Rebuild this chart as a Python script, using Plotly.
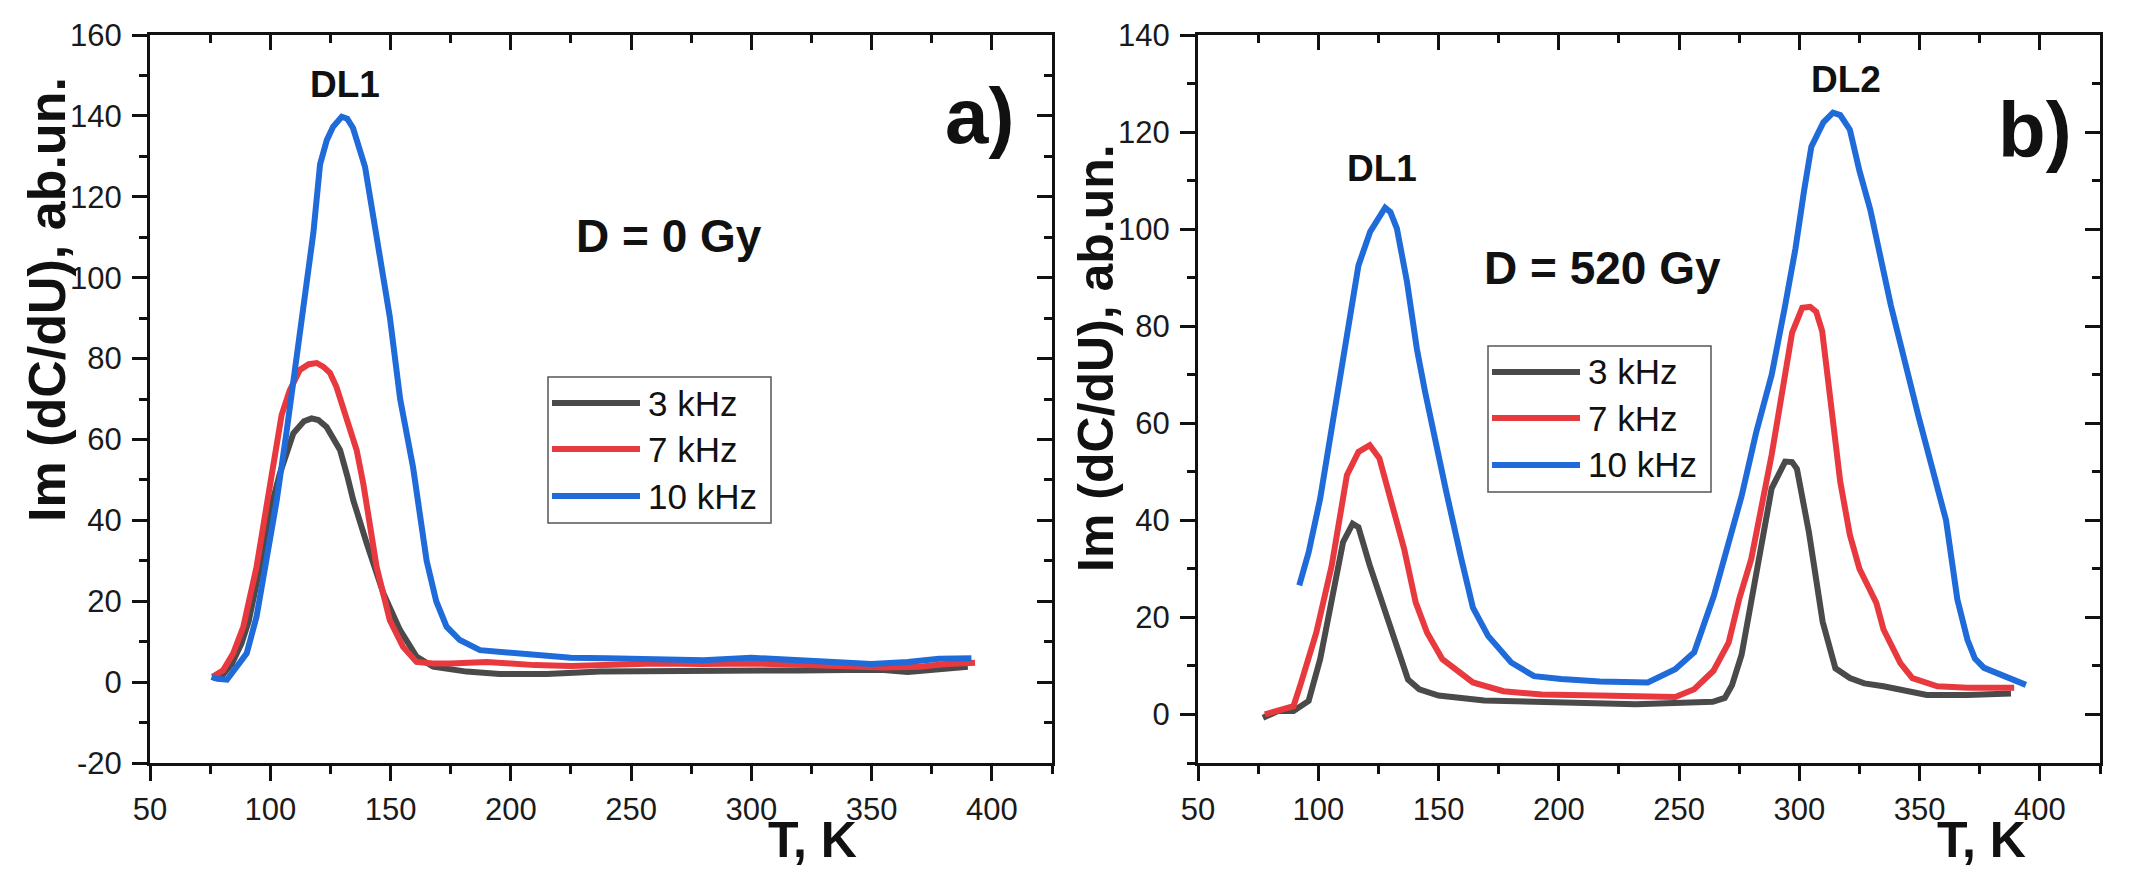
import plotly.graph_objects as go

W, H = 2142, 871
FONT = "Liberation Sans, Arial, sans-serif"

NAMES = ["3 kHz", "7 kHz", "10 kHz"]
COLORS = ["#4a4a4a", "#e8393e", "#1f6bd9"]

# ---- panel a) D = 0 Gy ----
T_a_3 = [76, 80, 84, 88, 91, 94.3, 97, 100, 104, 109.6, 114, 117.2, 120, 123.4, 126, 129, 132, 134.5,
         140.1, 147, 153.9, 160.8, 167.7, 175, 181.6, 195.5, 215, 237, 260, 280, 300, 320, 340, 355,
         365, 375, 390]
Y_a_3 = [1.0, 1.6, 4.5, 9.5, 15, 23.6, 32, 42.5, 51.6, 61.5, 64.5, 65.2, 64.8, 63.1, 60.5, 57.4, 51, 45,
         34.3, 22, 12.9, 6.3, 3.8, 3.0, 2.6, 2.0, 2.0, 2.6, 2.6, 2.7, 2.8, 2.9, 3.0, 3.0,
         2.5, 3.0, 3.8]

T_a_7 = [76, 80.4, 84.6, 88.8, 94.3, 100, 104.7, 108, 112.3, 116, 119.3, 122, 124.8, 127.5, 130.3, 133,
         135.9, 138.7, 144.2, 149.7, 155.2, 160.8, 167.7, 175, 182, 190, 200, 210, 225, 240, 260, 280,
         300, 320, 340, 355, 370, 380, 393]
Y_a_7 = [1.3, 2.9, 7.1, 13.7, 28.5, 49, 66, 72, 77.2, 78.6, 78.9, 78, 76.5, 73, 68.1, 62.5,
         57.4, 49, 28.5, 15.3, 8.7, 5.0, 4.6, 4.6, 4.8, 5.0, 4.6, 4.2, 4.0, 4.3, 4.6, 4.5,
         4.6, 4.3, 4.0, 3.6, 3.8, 4.4, 4.8]

T_a_10 = [75.6, 78, 82, 86, 90.2, 94.3, 98.5, 102.7, 106.8, 112.3, 117.9, 120.7, 123.5, 126.1, 129.7,
          132, 134.4, 139.4, 144.2, 149.7, 154, 159.4, 165, 169, 173.3, 178.8, 187.2, 195.5, 210, 225,
          240, 260, 280, 300, 320, 335, 350, 365, 378, 391.5]
Y_a_10 = [1.3, 0.8, 0.6, 3.8, 7.1, 16.2, 30, 45, 62, 86, 111, 128, 134, 137.3, 139.8,
          139.3, 137, 127.4, 111, 90.3, 70, 53, 30, 20, 13.7, 10.4, 7.9, 7.5, 6.8, 6.0,
          5.9, 5.6, 5.4, 6.0, 5.4, 5.0, 4.5, 5.0, 5.8, 5.9]

# ---- panel b) D = 520 Gy ----
T_b_3 = [77, 83.3, 89.7, 96, 100.8, 105.6, 110.3, 114.3, 116.7, 121.4, 127.8, 132.5, 137.3, 142, 150,
         169, 200, 232, 264, 269, 272, 276, 281.4, 288.5, 294.1, 297, 299, 304, 309.7, 315, 321, 327,
         335, 345, 353, 370, 388]
Y_b_3 = [-0.7, 0.7, 0.7, 2.8, 11.4, 23.8, 35.5, 39.3, 38.6, 30.7, 21, 14.1, 7.2, 5.2, 3.9,
         2.9, 2.4, 2.1, 2.6, 3.4, 6.0, 12.3, 27.1, 46.6, 52.1, 52, 50.6, 37.5, 19.1, 9.5, 7.5, 6.4,
         5.8, 4.8, 4.0, 4.0, 4.3]

T_b_7 = [77.8, 83.3, 89.7, 92.9, 99.2, 105.6, 111.9, 116.7, 121.4, 125.4, 131, 135.7, 140.5, 145.2,
         151.6, 157.9, 164.3, 177, 192.9, 216.7, 248.4, 256.3, 264.3, 270.6, 275, 280, 288.5, 297,
         301.2, 304.5, 307, 309.5, 312.5, 317, 321, 325, 329, 332, 335, 342, 347, 357.4, 370, 389.3]
Y_b_7 = [0, 0.7, 1.7, 6.6, 16.9, 30.7, 49.3, 54.1, 55.5, 52.8, 42.4, 34.1, 23.1, 16.9,
         11.4, 9.0, 6.6, 4.8, 4.1, 3.9, 3.6, 5.2, 9.0, 14.8, 23.8, 32, 53.5, 78.7,
         83.8, 84, 83, 79, 67.2, 48, 37, 30, 26, 23, 17.5, 10.6, 7.5, 5.8, 5.5, 5.5]

T_b_10 = [92.1, 96, 100.8, 104.3, 108.9, 113.3, 116.7, 121.6, 125, 127.8, 130, 132.7, 136.9, 141, 144.4,
          149.3, 153.2, 159.5, 164.3, 170.6, 180.2, 189.7, 201, 217, 237, 248.4, 256.3, 264.5, 270.5,
          276, 282, 288.5, 294, 298.4, 302, 305, 310, 314, 317, 321, 325, 329.5, 338, 349.5, 361,
          365.7, 369.9, 373, 376.8, 383.8, 394.2]
Y_b_10 = [26.6, 33.4, 44.5, 54.7, 68, 82.2, 92.5, 99.5, 102.5, 104.4, 103.5, 100.1, 89.1, 75.3, 66.5,
          54.7, 45.9, 32, 22, 16.2, 10.7, 7.9, 7.3, 6.8, 6.6, 9.3, 12.8, 24.5, 35,
          45, 58, 70, 84, 96, 108, 117, 122, 124, 123.5, 120.5, 112, 104, 84.4, 61.5, 40,
          23.7, 15.4, 11.5, 9.6, 8.2, 6.1]

X_TICKS = [50, 100, 150, 200, 250, 300, 350, 400]
Y_TICKS_A = [-20, 0, 20, 40, 60, 80, 100, 120, 140, 160]
Y_TICKS_B = [0, 20, 40, 60, 80, 100, 120, 140]

fig = go.Figure()

panels = [
    ("x", "y", [(T_a_3, Y_a_3), (T_a_7, Y_a_7), (T_a_10, Y_a_10)]),
    ("x2", "y2", [(T_b_3, Y_b_3), (T_b_7, Y_b_7), (T_b_10, Y_b_10)]),
]
for xa, ya, series in panels:
    for (T, Y), name, color in zip(series, NAMES, COLORS):
        fig.add_trace(go.Scatter(x=T, y=Y, mode="lines", name=name, xaxis=xa, yaxis=ya,
                                 line=dict(color=color, width=6), showlegend=False,
                                 hoverinfo="skip"))

# invisible traces to activate the mirrored inside-tick axes
for xa, ya in [("x3", "y"), ("x", "y3"), ("x4", "y2"), ("x2", "y4")]:
    fig.add_trace(go.Scatter(x=[None], y=[None], xaxis=xa, yaxis=ya, showlegend=False,
                             hoverinfo="skip"))

AX = "#111111"
TICKFONT = dict(family=FONT, size=31, color="#1a1a1a")


def labels(vals):
    return [str(v) for v in vals]   # plain hyphen for negatives, as in the reference


def main_axis(domain, rng, tickvals, minor_dtick, minor_tick0, anchor, standoff):
    return dict(domain=domain, range=rng, anchor=anchor, tickmode="array", tickvals=tickvals,
                ticktext=labels(tickvals), automargin=False,
                ticks="outside", ticklen=15, tickwidth=3, tickcolor=AX,
                showline=True, linewidth=3, linecolor=AX, mirror=True,
                showgrid=False, zeroline=False, tickfont=TICKFONT, ticklabelstandoff=standoff,
                minor=dict(tickmode="linear", tick0=minor_tick0, dtick=minor_dtick, ticks="outside",
                           ticklen=8, tickwidth=3, tickcolor=AX, showgrid=False))


def mirror_axis(rng, tickvals, minor_dtick, minor_tick0, overlaying, side, anchor):
    return dict(range=rng, overlaying=overlaying, side=side, anchor=anchor, tickmode="array",
                tickvals=tickvals, ticks="inside", ticklen=15, tickwidth=3, tickcolor=AX,
                automargin=False, showline=False, showgrid=False, zeroline=False,
                showticklabels=False,
                minor=dict(tickmode="linear", tick0=minor_tick0, dtick=minor_dtick, ticks="inside",
                           ticklen=8, tickwidth=3, tickcolor=AX, showgrid=False))


YDOM = [108 / H, 836 / H]
XDOM_A = [150 / W, 1052 / W]
XDOM_B = [1198 / W, 2100 / W]
XR = [50, 425]
YR_A = [-20, 160]
YR_B = [-10, 140]

fig.update_layout(
    width=W, height=H, margin=dict(l=0, r=0, t=0, b=0, autoexpand=False),
    paper_bgcolor="white", plot_bgcolor="white", showlegend=False,
    xaxis=main_axis(XDOM_A, XR, X_TICKS, 25, 50, "y", 2),
    yaxis=main_axis(YDOM, YR_A, Y_TICKS_A, 10, -20, "x", 4),
    xaxis2=main_axis(XDOM_B, XR, X_TICKS, 25, 50, "y2", 2),
    yaxis2=main_axis(YDOM, YR_B, Y_TICKS_B, 10, -10, "x2", 4),
    xaxis3=mirror_axis(XR, X_TICKS, 25, 50, "x", "top", "y"),
    yaxis3=mirror_axis(YR_A, Y_TICKS_A, 10, -20, "y", "right", "x"),
    xaxis4=mirror_axis(XR, X_TICKS, 25, 50, "x2", "top", "y2"),
    yaxis4=mirror_axis(YR_B, Y_TICKS_B, 10, -10, "y2", "right", "x2"),
)


def px(x):
    return x / W


def py(y):
    return 1 - y / H


ann = []


def txt(text, x, y, size, xref="paper", yref="paper", angle=0, xanchor="center", bold=True):
    ann.append(dict(text=f"<b>{text}</b>" if bold else text, x=x, y=y, xref=xref, yref=yref,
                    showarrow=False, textangle=angle, xanchor=xanchor, yanchor="middle",
                    font=dict(family=FONT, size=size, color="#111111")))


# panel labels and peak labels (data coordinates)
txt("DL1", 131, 147.7, 37, "x", "y")
txt("D = 0 Gy", 265.6, 110.4, 46, "x", "y")
txt("a)", 394.7, 140, 78, "x", "y")
txt("DL1", 126.7, 112.5, 37, "x2", "y2")
txt("DL2", 319.5, 130.8, 37, "x2", "y2")
txt("D = 520 Gy", 218.2, 91.9, 46, "x2", "y2")
txt("b)", 398, 120.5, 78, "x2", "y2")

# axis titles
txt("Im (dC/dU), ab.un.", px(47), py(300), 52, angle=-90)
txt("Im (dC/dU), ab.un.", px(1096), py(358), 50, angle=-90)
txt("T, K", px(812), py(840), 50)
txt("T, K", px(1981), py(840), 50)

# hand-drawn legends
shapes = []
LEGENDS = [
    dict(box=(548, 377, 771, 523), x0=552, x1=640, rows=[403, 449, 496], tx=646),
    dict(box=(1488, 346, 1711, 492), x0=1492, x1=1580, rows=[372, 418, 465], tx=1586),
]
for lg in LEGENDS:
    bx0, by0, bx1, by1 = lg["box"]
    shapes.append(dict(type="rect", xref="paper", yref="paper", x0=px(bx0), x1=px(bx1),
                       y0=py(by1), y1=py(by0), line=dict(color="#555555", width=1.5),
                       fillcolor="white", layer="above"))
    for name, color, ry in zip(NAMES, COLORS, lg["rows"]):
        shapes.append(dict(type="line", xref="paper", yref="paper", x0=px(lg["x0"]),
                           x1=px(lg["x1"]), y0=py(ry), y1=py(ry),
                           line=dict(color=color, width=6), layer="above"))
        txt(name, px(lg["tx"]), py(ry), 35, xanchor="left", bold=False)

fig.update_layout(annotations=ann, shapes=shapes)
fig.write_html("out.html")
